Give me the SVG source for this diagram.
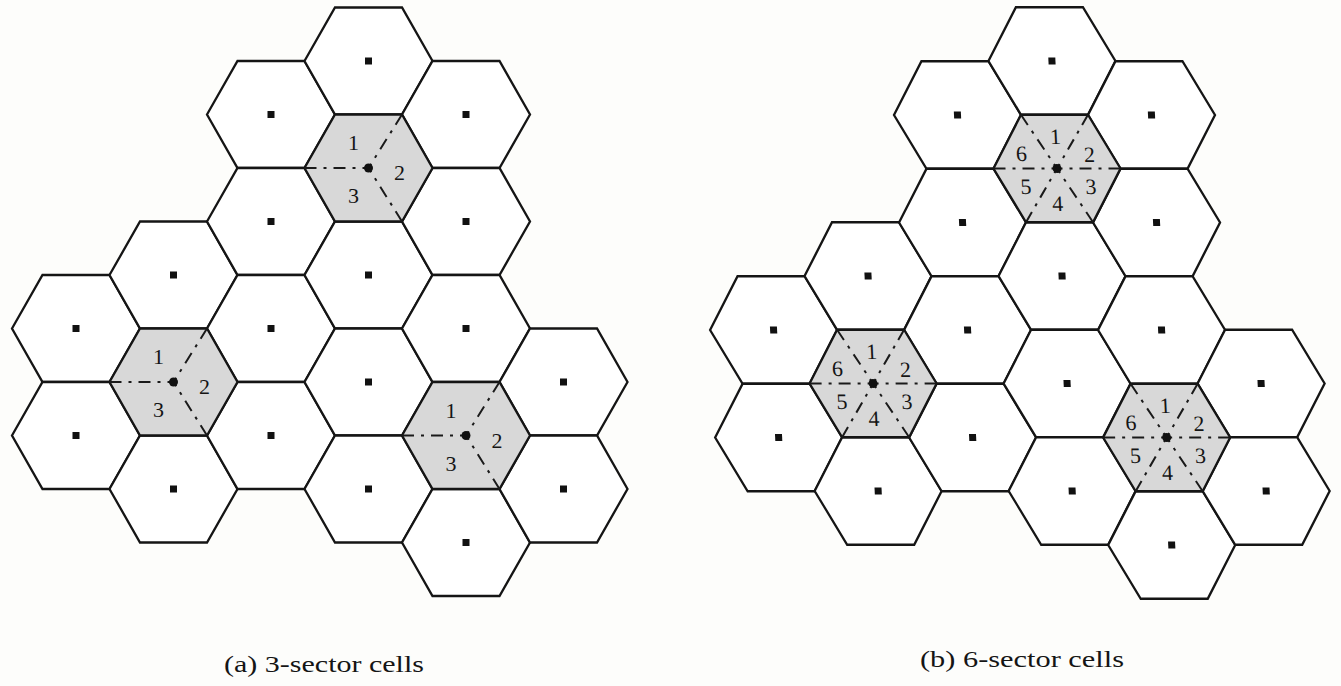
<svg xmlns="http://www.w3.org/2000/svg" xmlns:xlink="http://www.w3.org/1999/xlink" width="1341" height="686" viewBox="0 0 1341 686">
<style>
.hw{fill:#ffffff;stroke:#151515;stroke-width:2.3;stroke-linejoin:miter}
.hs{fill:#d8d8d8;stroke:#151515;stroke-width:2.3;stroke-linejoin:miter}
.dot{fill:#111}
.sec{fill:none;stroke:#1a1a1a;stroke-width:2;stroke-dasharray:12 7 3 7}
.ctr{fill:#111}
.lbl{font-family:"Liberation Serif","Times New Roman",serif;font-size:22px;fill:#151515;text-anchor:middle}
.cap{font-family:"Liberation Serif","Times New Roman",serif;font-size:23px;fill:#151515;text-anchor:middle}
</style>
<defs>
<polygon id="hexL" points="-64,0 -33.5,-53.5 33.5,-53.5 64,0 33.5,53.5 -33.5,53.5"/>
<polygon id="hexR" points="-63.5,0 -33.5,-53.75 33.5,-53.75 63.5,0 33.5,53.75 -33.5,53.75"/>
<rect id="dot" x="-3.5" y="-3.5" width="7" height="7"/>
</defs>
<rect x="0" y="0" width="1341" height="686" fill="#fdfdfb"/>

<g id="diagram-a">
<g id="a-c0r0" transform="translate(76,328.5)"><use href="#hexL" class="hw"/><use href="#dot" class="dot"/></g>
<g id="a-c0r1" transform="translate(76,435.5)"><use href="#hexL" class="hw"/><use href="#dot" class="dot"/></g>
<g id="a-c1r0" transform="translate(173.5,275)"><use href="#hexL" class="hw"/><use href="#dot" class="dot"/></g>
<g id="a-c1r2" transform="translate(173.5,489)"><use href="#hexL" class="hw"/><use href="#dot" class="dot"/></g>
<g id="a-c2r0" transform="translate(271,114.5)"><use href="#hexL" class="hw"/><use href="#dot" class="dot"/></g>
<g id="a-c2r1" transform="translate(271,221.5)"><use href="#hexL" class="hw"/><use href="#dot" class="dot"/></g>
<g id="a-c2r2" transform="translate(271,328.5)"><use href="#hexL" class="hw"/><use href="#dot" class="dot"/></g>
<g id="a-c2r3" transform="translate(271,435.5)"><use href="#hexL" class="hw"/><use href="#dot" class="dot"/></g>
<g id="a-c3r0" transform="translate(368.5,61)"><use href="#hexL" class="hw"/><use href="#dot" class="dot"/></g>
<g id="a-c3r2" transform="translate(368.5,275)"><use href="#hexL" class="hw"/><use href="#dot" class="dot"/></g>
<g id="a-c3r3" transform="translate(368.5,382)"><use href="#hexL" class="hw"/><use href="#dot" class="dot"/></g>
<g id="a-c3r4" transform="translate(368.5,489)"><use href="#hexL" class="hw"/><use href="#dot" class="dot"/></g>
<g id="a-c4r0" transform="translate(466,114.5)"><use href="#hexL" class="hw"/><use href="#dot" class="dot"/></g>
<g id="a-c4r1" transform="translate(466,221.5)"><use href="#hexL" class="hw"/><use href="#dot" class="dot"/></g>
<g id="a-c4r2" transform="translate(466,328.5)"><use href="#hexL" class="hw"/><use href="#dot" class="dot"/></g>
<g id="a-c4r4" transform="translate(466,542.5)"><use href="#hexL" class="hw"/><use href="#dot" class="dot"/></g>
<g id="a-c5r0" transform="translate(563.5,382)"><use href="#hexL" class="hw"/><use href="#dot" class="dot"/></g>
<g id="a-c5r1" transform="translate(563.5,489)"><use href="#hexL" class="hw"/><use href="#dot" class="dot"/></g>

<g id="a-sector-top" transform="translate(368.5,168)">
<use href="#hexL" class="hs"/>
<path class="sec" d="M-64,0 L0,0 M33.5,-53.5 L0,0 M33.5,53.5 L0,0"/>
<circle class="ctr" r="4.5"/>
<text class="lbl" x="-15" y="-18">1</text><text class="lbl" x="31" y="12">2</text><text class="lbl" x="-15" y="35">3</text>
</g>
<g id="a-sector-left" transform="translate(173.5,382)">
<use href="#hexL" class="hs"/>
<path class="sec" d="M-64,0 L0,0 M33.5,-53.5 L0,0 M33.5,53.5 L0,0"/>
<circle class="ctr" r="4.5"/>
<text class="lbl" x="-15" y="-18">1</text><text class="lbl" x="31" y="12">2</text><text class="lbl" x="-15" y="35">3</text>
</g>
<g id="a-sector-right" transform="translate(466,435.5)">
<use href="#hexL" class="hs"/>
<path class="sec" d="M-64,0 L0,0 M33.5,-53.5 L0,0 M33.5,53.5 L0,0"/>
<circle class="ctr" r="4.5"/>
<text class="lbl" x="-15" y="-18">1</text><text class="lbl" x="31" y="12">2</text><text class="lbl" x="-15" y="35">3</text>
</g>
</g>

<g id="diagram-b" transform="matrix(1 0 0.047 1 -2.914 0)">
<g id="b-c0r0" transform="translate(761,330)"><use href="#hexR" class="hw"/><use href="#dot" class="dot"/></g>
<g id="b-c0r1" transform="translate(761,437.5)"><use href="#hexR" class="hw"/><use href="#dot" class="dot"/></g>
<g id="b-c1r0" transform="translate(858,276)"><use href="#hexR" class="hw"/><use href="#dot" class="dot"/></g>
<g id="b-c1r2" transform="translate(858,491)"><use href="#hexR" class="hw"/><use href="#dot" class="dot"/></g>
<g id="b-c2r0" transform="translate(955,115)"><use href="#hexR" class="hw"/><use href="#dot" class="dot"/></g>
<g id="b-c2r1" transform="translate(955,222.5)"><use href="#hexR" class="hw"/><use href="#dot" class="dot"/></g>
<g id="b-c2r2" transform="translate(955,330)"><use href="#hexR" class="hw"/><use href="#dot" class="dot"/></g>
<g id="b-c2r3" transform="translate(955,437.5)"><use href="#hexR" class="hw"/><use href="#dot" class="dot"/></g>
<g id="b-c3r0" transform="translate(1052,61)"><use href="#hexR" class="hw"/><use href="#dot" class="dot"/></g>
<g id="b-c3r2" transform="translate(1052,276)"><use href="#hexR" class="hw"/><use href="#dot" class="dot"/></g>
<g id="b-c3r3" transform="translate(1052,383.5)"><use href="#hexR" class="hw"/><use href="#dot" class="dot"/></g>
<g id="b-c3r4" transform="translate(1052,491)"><use href="#hexR" class="hw"/><use href="#dot" class="dot"/></g>
<g id="b-c4r0" transform="translate(1149,115)"><use href="#hexR" class="hw"/><use href="#dot" class="dot"/></g>
<g id="b-c4r1" transform="translate(1149,222.5)"><use href="#hexR" class="hw"/><use href="#dot" class="dot"/></g>
<g id="b-c4r2" transform="translate(1149,330)"><use href="#hexR" class="hw"/><use href="#dot" class="dot"/></g>
<g id="b-c4r4" transform="translate(1149,545)"><use href="#hexR" class="hw"/><use href="#dot" class="dot"/></g>
<g id="b-c5r0" transform="translate(1246,383.5)"><use href="#hexR" class="hw"/><use href="#dot" class="dot"/></g>
<g id="b-c5r1" transform="translate(1246,491)"><use href="#hexR" class="hw"/><use href="#dot" class="dot"/></g>

<g id="b-sector-top" transform="translate(1052,168.5)">
<use href="#hexR" class="hs"/>
<path class="sec" d="M-63.5,0 L0,0 M63.5,0 L0,0 M-33.5,-53.75 L0,0 M33.5,-53.75 L0,0 M-33.5,53.75 L0,0 M33.5,53.75 L0,0"/>
<circle class="ctr" r="4.5"/>
<text class="lbl" x="0" y="-25">1</text><text class="lbl" x="33" y="-7">2</text><text class="lbl" x="33" y="26">3</text>
<text class="lbl" x="-1" y="43">4</text><text class="lbl" x="-32" y="26">5</text><text class="lbl" x="-35" y="-8">6</text>
</g>
<g id="b-sector-left" transform="translate(858,383.5)">
<use href="#hexR" class="hs"/>
<path class="sec" d="M-63.5,0 L0,0 M63.5,0 L0,0 M-33.5,-53.75 L0,0 M33.5,-53.75 L0,0 M-33.5,53.75 L0,0 M33.5,53.75 L0,0"/>
<circle class="ctr" r="4.5"/>
<text class="lbl" x="0" y="-25">1</text><text class="lbl" x="33" y="-7">2</text><text class="lbl" x="33" y="26">3</text>
<text class="lbl" x="-1" y="43">4</text><text class="lbl" x="-32" y="26">5</text><text class="lbl" x="-35" y="-8">6</text>
</g>
<g id="b-sector-right" transform="translate(1149,437.5)">
<use href="#hexR" class="hs"/>
<path class="sec" d="M-63.5,0 L0,0 M63.5,0 L0,0 M-33.5,-53.75 L0,0 M33.5,-53.75 L0,0 M-33.5,53.75 L0,0 M33.5,53.75 L0,0"/>
<circle class="ctr" r="4.5"/>
<text class="lbl" x="0" y="-25">1</text><text class="lbl" x="33" y="-7">2</text><text class="lbl" x="33" y="26">3</text>
<text class="lbl" x="-1" y="43">4</text><text class="lbl" x="-32" y="26">5</text><text class="lbl" x="-35" y="-8">6</text>
</g>
</g>

<g id="connectors"/>

<g id="captions">
<text class="cap" x="324" y="672" textLength="200" lengthAdjust="spacingAndGlyphs">(a) 3-sector cells</text>
<text class="cap" x="1022" y="667" textLength="204" lengthAdjust="spacingAndGlyphs">(b) 6-sector cells</text>
</g>
</svg>
